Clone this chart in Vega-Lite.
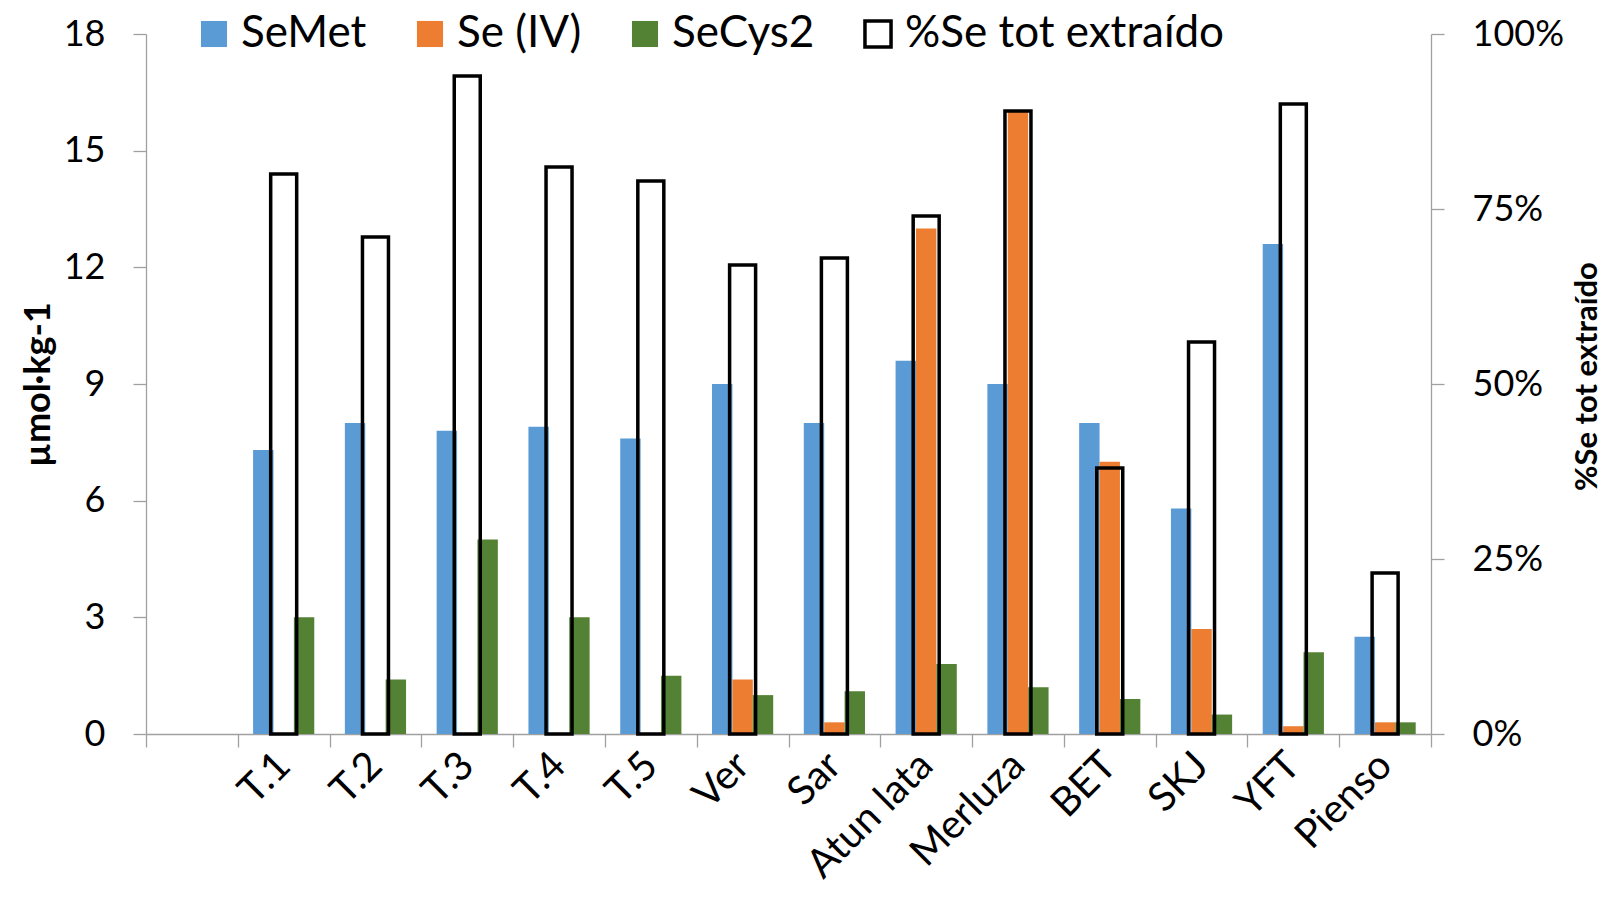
{
  "$schema": "https://vega.github.io/schema/vega-lite/v6.json",
  "width": 1285,
  "height": 700,
  "autosize": "none",
  "padding": {"left": 146, "top": 34, "right": 172, "bottom": 168},
  "background": "white",
  "config": {
    "font": "Lato",
    "view": {"stroke": null},
    "axis": {
      "labelFont": "Lato",
      "labelFontSize": 36,
      "labelColor": "black",
      "titleColor": "black",
      "domainColor": "#a0a0a0",
      "tickColor": "#a0a0a0",
      "domainWidth": 1.3,
      "tickWidth": 1.3,
      "tickSize": 13,
      "grid": false
    }
  },
  "datasets": {
    "species": [
      {"cat": "T.1", "serie": "SeMet", "val": 7.3},
      {"cat": "T.1", "serie": "Se (IV)", "val": 0},
      {"cat": "T.1", "serie": "SeCys2", "val": 3.0},
      {"cat": "T.2", "serie": "SeMet", "val": 8.0},
      {"cat": "T.2", "serie": "Se (IV)", "val": 0},
      {"cat": "T.2", "serie": "SeCys2", "val": 1.4},
      {"cat": "T.3", "serie": "SeMet", "val": 7.8},
      {"cat": "T.3", "serie": "Se (IV)", "val": 0},
      {"cat": "T.3", "serie": "SeCys2", "val": 5.0},
      {"cat": "T.4", "serie": "SeMet", "val": 7.9},
      {"cat": "T.4", "serie": "Se (IV)", "val": 0},
      {"cat": "T.4", "serie": "SeCys2", "val": 3.0},
      {"cat": "T.5", "serie": "SeMet", "val": 7.6},
      {"cat": "T.5", "serie": "Se (IV)", "val": 0},
      {"cat": "T.5", "serie": "SeCys2", "val": 1.5},
      {"cat": "Ver", "serie": "SeMet", "val": 9.0},
      {"cat": "Ver", "serie": "Se (IV)", "val": 1.4},
      {"cat": "Ver", "serie": "SeCys2", "val": 1.0},
      {"cat": "Sar", "serie": "SeMet", "val": 8.0},
      {"cat": "Sar", "serie": "Se (IV)", "val": 0.3},
      {"cat": "Sar", "serie": "SeCys2", "val": 1.1},
      {"cat": "Atun lata", "serie": "SeMet", "val": 9.6},
      {"cat": "Atun lata", "serie": "Se (IV)", "val": 13.0},
      {"cat": "Atun lata", "serie": "SeCys2", "val": 1.8},
      {"cat": "Merluza", "serie": "SeMet", "val": 9.0},
      {"cat": "Merluza", "serie": "Se (IV)", "val": 16.0},
      {"cat": "Merluza", "serie": "SeCys2", "val": 1.2},
      {"cat": "BET", "serie": "SeMet", "val": 8.0},
      {"cat": "BET", "serie": "Se (IV)", "val": 7.0},
      {"cat": "BET", "serie": "SeCys2", "val": 0.9},
      {"cat": "SKJ", "serie": "SeMet", "val": 5.8},
      {"cat": "SKJ", "serie": "Se (IV)", "val": 2.7},
      {"cat": "SKJ", "serie": "SeCys2", "val": 0.5},
      {"cat": "YFT", "serie": "SeMet", "val": 12.6},
      {"cat": "YFT", "serie": "Se (IV)", "val": 0.2},
      {"cat": "YFT", "serie": "SeCys2", "val": 2.1},
      {"cat": "Pienso", "serie": "SeMet", "val": 2.5},
      {"cat": "Pienso", "serie": "Se (IV)", "val": 0.3},
      {"cat": "Pienso", "serie": "SeCys2", "val": 0.3}
    ],
    "pct": [
      {"cat": "T.1", "serie": "%Se tot extraído", "pct": 0.80},
      {"cat": "T.2", "serie": "%Se tot extraído", "pct": 0.71},
      {"cat": "T.3", "serie": "%Se tot extraído", "pct": 0.94},
      {"cat": "T.4", "serie": "%Se tot extraído", "pct": 0.81},
      {"cat": "T.5", "serie": "%Se tot extraído", "pct": 0.79},
      {"cat": "Ver", "serie": "%Se tot extraído", "pct": 0.67},
      {"cat": "Sar", "serie": "%Se tot extraído", "pct": 0.68},
      {"cat": "Atun lata", "serie": "%Se tot extraído", "pct": 0.74},
      {"cat": "Merluza", "serie": "%Se tot extraído", "pct": 0.89},
      {"cat": "BET", "serie": "%Se tot extraído", "pct": 0.38},
      {"cat": "SKJ", "serie": "%Se tot extraído", "pct": 0.56},
      {"cat": "YFT", "serie": "%Se tot extraído", "pct": 0.90},
      {"cat": "Pienso", "serie": "%Se tot extraído", "pct": 0.23}
    ]
  },
  "encoding": {
    "x": {
      "field": "cat",
      "type": "nominal",
      "sort": null,
      "scale": {
        "type": "band",
        "domain": [" ", "T.1", "T.2", "T.3", "T.4", "T.5", "Ver", "Sar", "Atun lata", "Merluza", "BET", "SKJ", "YFT", "Pienso"],
        "paddingInner": 0,
        "paddingOuter": 0
      },
      "axis": {
        "title": null,
        "labelAngle": -45,
        "labelAlign": "right",
        "labelBaseline": "middle",
        "labelPadding": 12,
        "tickBand": "extent",
        "labelFontSize": 40
      }
    },
    "color": {
      "field": "serie",
      "type": "nominal",
      "scale": {
        "domain": ["SeMet", "Se (IV)", "SeCys2", "%Se tot extraído"],
        "range": ["#5B9BD5", "#ED7D31", "#548235", "transparent"]
      },
      "legend": {
        "title": null,
        "orient": "none",
        "legendX": 46,
        "legendY": -22,
        "direction": "horizontal",
        "columns": 4,
        "symbolType": "square",
        "symbolSize": 680,
        "symbolOpacity": 1,
        "labelFont": "Lato",
        "labelFontSize": 44,
        "labelColor": "black",
        "labelLimit": 600,
        "labelOffset": 5,
        "columnPadding": 41,
        "encode": {
          "symbols": {
            "update": {
              "stroke": {"signal": "datum.value === '%Se tot extraído' ? 'black' : 'transparent'"},
              "strokeWidth": {"value": 3.5}
            }
          }
        }
      }
    }
  },
  "layer": [
    {
      "data": {"name": "species"},
      "mark": {"type": "bar"},
      "encoding": {
        "xOffset": {
          "field": "serie",
          "type": "nominal",
          "sort": null,
          "scale": {"domain": ["SeMet", "Se (IV)", "SeCys2"], "paddingInner": 0, "paddingOuter": 0.75}
        },
        "y": {
          "field": "val",
          "type": "quantitative",
          "scale": {"domain": [0, 18], "nice": false},
          "axis": {
            "orient": "left",
            "values": [0, 3, 6, 9, 12, 15, 18],
            "labelPadding": 28,
            "labelFontSize": 36,
            "title": "µmol·kg-1",
            "titleFont": "Lato",
            "titleFontSize": 36,
            "titleFontWeight": "bold",
            "titleAngle": -90,
            "titleAlign": "center",
            "titleBaseline": "middle",
            "titleX": -108,
            "titleY": 350
          }
        }
      }
    },
    {
      "data": {"name": "pct"},
      "mark": {"type": "bar", "width": 26, "stroke": "black", "strokeWidth": 3.5, "strokeJoin": "miter"},
      "encoding": {
        "y": {
          "field": "pct",
          "type": "quantitative",
          "scale": {"domain": [0, 1], "nice": false},
          "axis": {
            "orient": "right",
            "values": [0, 0.25, 0.5, 0.75, 1],
            "format": ".0%",
            "labelPadding": 28,
            "labelFontSize": 36,
            "title": "%Se tot extraído",
            "titleFont": "Lato",
            "titleFontSize": 31,
            "titleFontWeight": "bold",
            "titleAngle": -90,
            "titleAlign": "center",
            "titleBaseline": "middle",
            "titleX": 156,
            "titleY": 342
          }
        }
      }
    }
  ],
  "resolve": {"scale": {"y": "independent"}, "axis": {"y": "independent"}}
}
